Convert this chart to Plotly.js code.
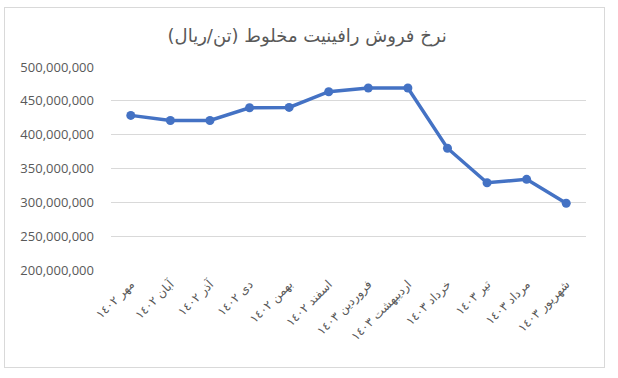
<!DOCTYPE html>
<html>
<head>
<meta charset="utf-8">
<script src="https://cdn.plot.ly/plotly-3.0.1.min.js"></script>
<style>
  html, body { margin: 0; padding: 0; background: #fff; }
  #wrap { position: relative; width: 618px; height: 378px; }
  #chart { position: absolute; left: 0; top: 0; width: 618px; height: 378px; }
  #frame { position: absolute; left: 4px; top: 7px; width: 599px; height: 359px; border: 1px solid #D9D9D9; pointer-events: none; }
</style>
</head>
<body>
<div id="wrap">
  <div id="chart"></div>
  <div id="frame"></div>
</div>
<script>
const months = ["مهر ١٤٠٢", "آبان ١٤٠٢", "آذر ١٤٠٢", "دی ١٤٠٢", "بهمن ١٤٠٢", "اسفند ١٤٠٢",
                "فروردین ١٤٠٣", "اردیبهشت ١٤٠٣", "خرداد ١٤٠٣", "تیر ١٤٠٣", "مرداد ١٤٠٣", "شهریور ١٤٠٣"];
const prices = [428500000, 421000000, 421000000, 439800000, 440300000, 463500000,
                469000000, 469000000, 380000000, 329000000, 334000000, 298700000];
const yTicks = [200000000, 250000000, 300000000, 350000000, 400000000, 450000000, 500000000];
const yTickText = ["200,000,000", "250,000,000", "300,000,000", "350,000,000", "400,000,000", "450,000,000", "500,000,000"];
const chartTitle = "\u200Fنرخ فروش رافینیت مخلوط (تن/ریال)\u200F";

const trace = {
  x: months.map((m, i) => i),
  y: prices,
  type: "scatter",
  mode: "lines+markers",
  line: { color: "#4472C4", width: 3.5 },
  marker: { color: "#4472C4", size: 9 },
  hoverinfo: "none"
};

const layout = {
  width: 618, height: 378,
  margin: { l: 111, r: 32, t: 67, b: 108, pad: 0 },
  paper_bgcolor: "#ffffff",
  plot_bgcolor: "#ffffff",
  showlegend: false,
  title: {
    text: chartTitle,
    font: { family: "DejaVu Sans, Noto Sans, sans-serif", size: 18, color: "#595959" },
    x: 0.497, xanchor: "center", xref: "container",
    y: 0.905, yanchor: "middle", yref: "container"
  },
  xaxis: {
    range: [-0.5, 11.5],
    tickmode: "array",
    tickvals: months.map((m, i) => i),
    ticktext: months.map(m => "\u200F" + m + "\u200F"),
    tickangle: -45,
    tickfont: { family: "DejaVu Sans, sans-serif", size: 12, color: "#595959" },
    showgrid: false, zeroline: false, showline: false,
    ticks: "", ticklabelstandoff: 4, automargin: false, fixedrange: true
  },
  yaxis: {
    range: [200000000, 500000000],
    tickmode: "array",
    tickvals: yTicks,
    ticktext: yTickText,
    tickfont: { family: "Open Sans, sans-serif", size: 13, color: "#595959" },
    showgrid: true, gridcolor: "#D9D9D9", gridwidth: 1,
    zeroline: false, showline: false,
    ticks: "", ticklabelstandoff: 16, automargin: false, fixedrange: true
  }
};

Plotly.newPlot("chart", [trace], layout, { staticPlot: true, displayModeBar: false });
</script>
</body>
</html>
